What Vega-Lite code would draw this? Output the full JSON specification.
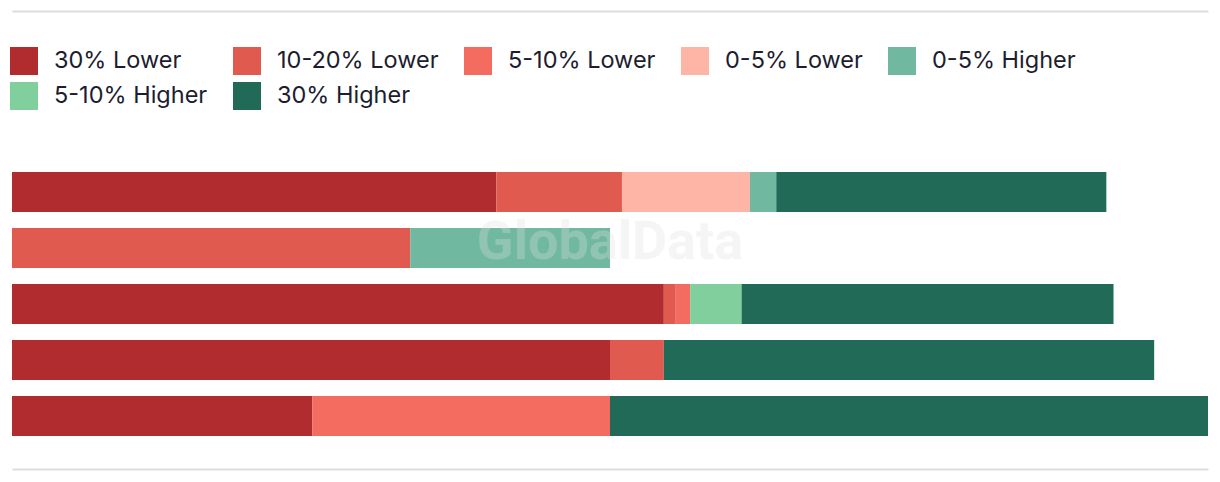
{
  "$schema": "https://vega.github.io/schema/vega-lite/v6.json",
  "autosize": {"type": "none"},
  "width": 1196,
  "height": 280,
  "padding": {"left": 12, "top": 164, "right": 12, "bottom": 38},
  "background": "#ffffff",
  "config": {
    "view": {"stroke": null},
    "font": "Inter",
    "legend": {
      "labelFont": "Inter",
      "labelFontSize": 23.5,
      "labelColor": "#1d1d2f",
      "labelLimit": 0,
      "symbolType": "square",
      "symbolSize": 784,
      "symbolStrokeWidth": 0,
      "symbolOpacity": 1,
      "labelOffset": 16,
      "columnPadding": 25,
      "rowPadding": 7,
      "padding": 0
    }
  },
  "layer": [
    {
      "data": {
        "values": [
          {"row": "1", "cat": "30% Lower", "k": 1, "v": 40.5},
          {"row": "1", "cat": "10-20% Lower", "k": 2, "v": 10.5},
          {"row": "1", "cat": "0-5% Lower", "k": 4, "v": 10.7},
          {"row": "1", "cat": "0-5% Higher", "k": 5, "v": 2.2},
          {"row": "1", "cat": "30% Higher", "k": 7, "v": 27.6},
          {"row": "2", "cat": "10-20% Lower", "k": 2, "v": 33.3},
          {"row": "2", "cat": "0-5% Higher", "k": 5, "v": 16.7},
          {"row": "3", "cat": "30% Lower", "k": 1, "v": 54.5},
          {"row": "3", "cat": "10-20% Lower", "k": 2, "v": 1.0},
          {"row": "3", "cat": "5-10% Lower", "k": 3, "v": 1.2},
          {"row": "3", "cat": "5-10% Higher", "k": 6, "v": 4.3},
          {"row": "3", "cat": "30% Higher", "k": 7, "v": 31.1},
          {"row": "4", "cat": "30% Lower", "k": 1, "v": 50.0},
          {"row": "4", "cat": "10-20% Lower", "k": 2, "v": 4.5},
          {"row": "4", "cat": "30% Higher", "k": 7, "v": 41.0},
          {"row": "5", "cat": "30% Lower", "k": 1, "v": 25.1},
          {"row": "5", "cat": "5-10% Lower", "k": 3, "v": 24.9},
          {"row": "5", "cat": "30% Higher", "k": 7, "v": 50.0}
        ]
      },
      "mark": {"type": "bar", "strokeWidth": 0},
      "encoding": {
        "y": {
          "field": "row",
          "type": "nominal",
          "sort": ["1", "2", "3", "4", "5"],
          "axis": null,
          "scale": {"paddingInner": 0.2857, "paddingOuter": 0.142857}
        },
        "x": {
          "field": "v",
          "type": "quantitative",
          "stack": "zero",
          "scale": {"domain": [0, 100], "nice": false},
          "axis": {
            "orient": "bottom",
            "domain": true,
            "domainColor": "#dddddd",
            "domainWidth": 2,
            "ticks": false,
            "labels": false,
            "grid": false,
            "title": null,
            "offset": 25
          }
        },
        "color": {
          "field": "cat",
          "type": "nominal",
          "title": null,
          "scale": {
            "domain": ["30% Lower", "10-20% Lower", "5-10% Lower", "0-5% Lower", "0-5% Higher", "5-10% Higher", "30% Higher"],
            "range": ["#b02c2e", "#e05a4f", "#f46b60", "#feb5a6", "#71b8a0", "#80cf9c", "#216a57"]
          },
          "legend": {
            "orient": "none",
            "direction": "horizontal",
            "columns": 5,
            "gridAlign": "each",
            "legendX": -2,
            "legendY": -117
          }
        },
        "order": {"field": "k", "type": "quantitative"}
      }
    },
    {
      "data": {"values": [{"mark": "GlobalData", "row": "2", "pos": 50}]},
      "mark": {
        "type": "text",
        "font": "Roboto",
        "fontWeight": "bold",
        "fontSize": 54,
        "fill": "#e0e0e0",
        "opacity": 0.3,
        "align": "center",
        "baseline": "middle",
        "dy": -5
      },
      "encoding": {
        "text": {"field": "mark", "type": "nominal"},
        "y": {"field": "row", "type": "nominal", "sort": ["1", "2", "3", "4", "5"], "axis": null},
        "x": {
          "field": "pos",
          "type": "quantitative",
          "axis": {
            "orient": "top",
            "domain": true,
            "domainColor": "#dddddd",
            "domainWidth": 2,
            "ticks": false,
            "labels": false,
            "grid": false,
            "title": null,
            "offset": 153
          }
        }
      }
    }
  ],
  "resolve": {"axis": {"x": "independent"}}
}
